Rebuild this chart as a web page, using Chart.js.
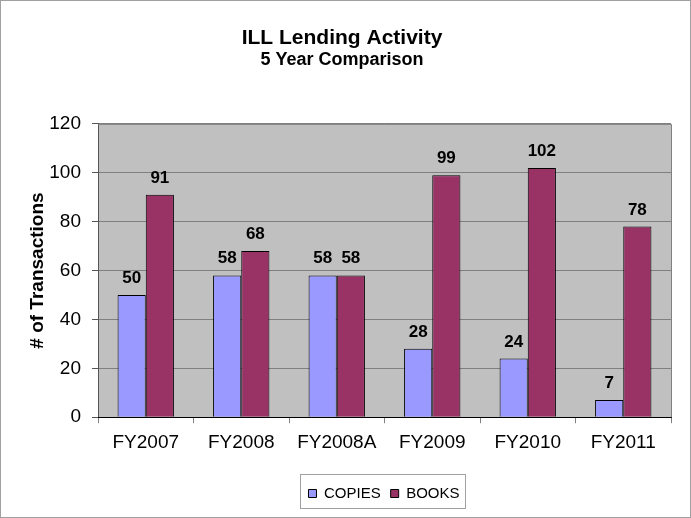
<!DOCTYPE html>
<html>
<head>
<meta charset="utf-8">
<script src="https://cdn.jsdelivr.net/npm/chart.js@4/dist/chart.umd.min.js"></script>
<style>
  html, body { margin: 0; padding: 0; background: #fff; }
  #wrap { width: 689px; height: 516px; border: 1px solid #a0a0a0; }
</style>
</head>
<body>
<div id="wrap"><canvas id="lendingChart" width="689" height="516"></canvas></div>
<script>
// ILL lending chart
const years = ['FY2007', 'FY2008', 'FY2008A', 'FY2009', 'FY2010', 'FY2011'];
const copies = [50, 58, 58, 28, 24, 7];
const books = [91, 68, 58, 99, 102, 78];
const yTicks = [0, 20, 40, 60, 80, 100, 120];

const FONT = 'Arial, "Liberation Sans", sans-serif';

// grey plot area, plot border, legend frame
const plotBg = {
    id: 'plotBg',
    afterLayout(chart) {
        // legend sits a bit right of centre in the original
        chart.legend.left += 42;
        chart.legend.right += 42;
    },
    beforeDraw(chart) {
        const { ctx, chartArea: a } = chart;
        ctx.save();
        ctx.fillStyle = '#c0c0c0';
        ctx.fillRect(a.left, a.top, a.right - a.left, a.bottom - a.top);
        ctx.restore();
    },
    afterDraw(chart) {
        const { ctx, chartArea: a } = chart;
        ctx.save();
        ctx.strokeStyle = '#808080';
        ctx.lineWidth = 1;
        ctx.beginPath();
        ctx.moveTo(a.left, a.top + 0.5);
        ctx.lineTo(a.right + 0.5, a.top + 0.5);
        ctx.lineTo(a.right + 0.5, a.bottom);
        ctx.stroke();
        ctx.strokeStyle = '#a0a0a0';
        ctx.strokeRect(299.5, 473.5, 165, 34);
        ctx.restore();
    }
};

// value labels above bars
const barLabels = {
    id: 'barLabels',
    afterDatasetsDraw(chart) {
        const { ctx } = chart;
        ctx.save();
        ctx.font = 'bold 17px ' + FONT;
        ctx.fillStyle = '#000';
        ctx.textAlign = 'center';
        ctx.textBaseline = 'alphabetic';
        chart.data.datasets.forEach((ds, i) => {
            chart.getDatasetMeta(i).data.forEach((bar, j) => {
                ctx.fillText(ds.data[j], bar.x, bar.y - 12);
            });
        });
        ctx.restore();
    }
};

const ctx = document.getElementById('lendingChart').getContext('2d');
const lendingChart = new Chart(ctx, {
    type: 'bar',
    data: {
        labels: years,
        datasets: [{
            label: 'COPIES',
            data: copies,
            backgroundColor: '#9999ff',
            borderColor: '#000',
            borderWidth: 1
        }, {
            label: 'BOOKS',
            data: books,
            backgroundColor: '#993366',
            borderColor: '#000',
            borderWidth: 1
        }]
    },
    options: {
        responsive: false,
        animation: false,
        layout: { padding: { left: 12, right: 19, top: 6, bottom: 6 } },
        datasets: { bar: { categoryPercentage: 0.59, barPercentage: 1 } },
        scales: {
            y: {
                min: 0,
                max: 120,
                afterBuildTicks: (axis) => { axis.ticks = yTicks.map(v => ({ value: v })); },
                afterFit: (scale) => { scale.width = 85; },
                ticks: { color: '#000', font: { family: FONT, size: 19 }, padding: 11 },
                grid: { color: '#808080', tickColor: '#555', tickLength: 6 },
                border: { color: '#555' },
                title: {
                    display: true,
                    text: '# of Transactions',
                    color: '#000',
                    font: { family: FONT, size: 19, weight: 'bold' },
                    padding: { top: 13, bottom: 0 }
                }
            },
            x: {
                afterFit: (scale) => { scale.height += 14; },
                ticks: { color: '#000', font: { family: FONT, size: 19 }, padding: 8 },
                grid: { offset: true, drawOnChartArea: false, color: '#808080', tickLength: 6 },
                border: { color: '#000' }
            }
        },
        plugins: {
            title: {
                display: true,
                text: 'ILL Lending Activity',
                color: '#000',
                font: { family: FONT, size: 21, weight: 'bold', lineHeight: 1.1 },
                padding: { top: 20, bottom: 0 }
            },
            subtitle: {
                display: true,
                text: '5 Year Comparison',
                color: '#000',
                font: { family: FONT, size: 18, weight: 'bold', lineHeight: 1.1 },
                padding: { bottom: 54 }
            },
            legend: {
                position: 'bottom',
                labels: {
                    color: '#000',
                    font: { family: FONT, size: 15 },
                    boxWidth: 8,
                    boxHeight: 8,
                    padding: 10
                }
            },
            tooltip: { enabled: false }
        }
    },
    plugins: [plotBg, barLabels]
});
</script>
</body>
</html>
